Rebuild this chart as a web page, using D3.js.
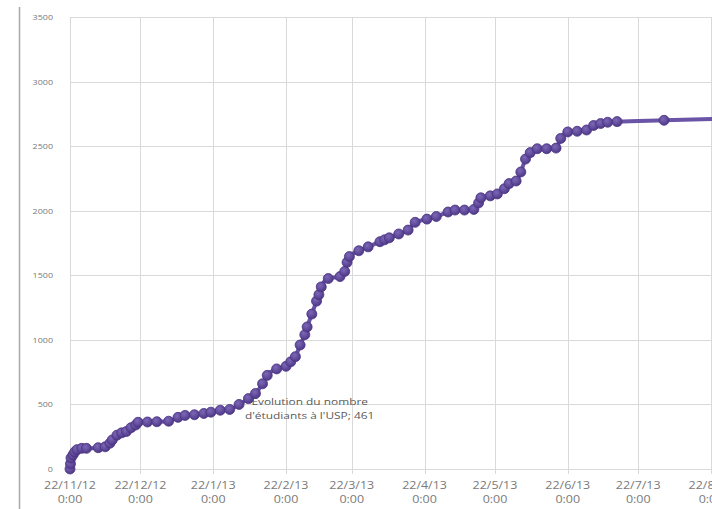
<!DOCTYPE html>
<html>
<head>
<meta charset="utf-8">
<script src="https://cdn.jsdelivr.net/npm/d3@7"></script>
<style>
  html, body { margin: 0; padding: 0; background: #ffffff; }
  svg { display: block; }
  text { font-family: "Open Sans", "Noto Sans", sans-serif; }
</style>
</head>
<body>
<svg id="chart" width="712" height="509"></svg>
<script>
// ---- data ----
const dates = [
  "2012-11-22 00:00","2012-11-22 05:00","2012-11-22 10:00","2012-11-23 07:00","2012-11-24 00:00",
  "2012-11-25 00:00","2012-11-27 00:00","2012-11-29 00:00","2012-12-04 00:00","2012-12-07 00:00",
  "2012-12-09 00:00","2012-12-10 00:00","2012-12-12 00:00","2012-12-14 00:00","2012-12-16 00:00",
  "2012-12-18 00:00","2012-12-20 00:00","2012-12-21 00:00","2012-12-25 00:00","2012-12-29 00:00",
  "2013-01-03 00:00","2013-01-07 00:00","2013-01-10 00:00","2013-01-14 00:00","2013-01-18 00:00",
  "2013-01-21 00:00","2013-01-25 00:00","2013-01-29 00:00","2013-02-02 00:00","2013-02-06 00:00",
  "2013-02-09 00:00","2013-02-12 00:00","2013-02-14 00:00","2013-02-18 00:00","2013-02-22 00:00",
  "2013-02-24 00:00","2013-02-26 00:00","2013-02-28 00:00","2013-03-02 00:00","2013-03-03 00:00",
  "2013-03-05 00:00","2013-03-07 00:00","2013-03-08 00:00","2013-03-09 00:00","2013-03-12 00:00",
  "2013-03-17 00:00","2013-03-19 00:00","2013-03-20 00:00","2013-03-21 00:00","2013-03-25 00:00",
  "2013-03-29 00:00","2013-04-03 00:00","2013-04-05 00:00","2013-04-07 00:00","2013-04-11 00:00",
  "2013-04-15 00:00","2013-04-18 00:00","2013-04-23 00:00","2013-04-27 00:00","2013-05-02 00:00",
  "2013-05-05 00:00","2013-05-09 00:00","2013-05-13 00:00","2013-05-15 00:00","2013-05-16 00:00",
  "2013-05-20 00:00","2013-05-23 00:00","2013-05-26 00:00","2013-05-28 00:00","2013-05-31 00:00",
  "2013-06-02 00:00","2013-06-04 00:00","2013-06-06 00:00","2013-06-09 00:00","2013-06-13 00:00",
  "2013-06-17 00:00","2013-06-19 00:00","2013-06-22 00:00","2013-06-26 00:00","2013-06-30 00:00",
  "2013-07-03 00:00","2013-07-06 00:00","2013-07-09 00:00","2013-07-13 00:00","2013-08-02 00:00",
  "2013-08-26 00:00"
];
const students = [
  0, 40, 85, 110, 132,
  150, 160, 160, 165, 172,
  200, 225, 262, 280, 290,
  320, 341, 362, 364, 366,
  370, 400, 415, 420, 430,
  440, 455, 461, 500, 545,
  585, 660, 725, 775, 795,
  830, 870, 960, 1040, 1100,
  1200, 1300, 1350, 1410, 1475,
  1490, 1530, 1600, 1645, 1690,
  1720, 1760, 1775, 1790, 1820,
  1850, 1910, 1935, 1955, 1990,
  2005, 2005, 2010, 2060, 2100,
  2115, 2130, 2170, 2210, 2230,
  2300, 2400, 2450, 2480, 2480,
  2485, 2560, 2610, 2615, 2625,
  2660, 2675, 2685, 2690, 2700,
  2712
];
const yTicks = [0, 500, 1000, 1500, 2000, 2500, 3000, 3500];
const xTickDates = [
  "2012-11-22 00:00","2012-12-22 00:00","2013-01-22 00:00","2013-02-22 00:00","2013-03-22 00:00",
  "2013-04-22 00:00","2013-05-22 00:00","2013-06-22 00:00","2013-07-22 00:00","2013-08-22 00:00"
];
const seriesName = ["Évolution du nombre", "d'étudiants  à l'USP; 461"];
const labelledValue = 461;

// ---- build ----
const parse = d3.timeParse("%Y-%m-%d %H:%M");
const data = dates.map((d, i) => ({ date: parse(d), value: students[i] }));
const ticks = xTickDates.map(parse);

const svg = d3.select("#chart");
const plotLeft = 70, plotRight = 711, plotTop = 17, plotBottom = 469;

const x = d3.scaleTime().domain([ticks[0], ticks[ticks.length - 1]]).range([plotLeft, plotRight]);
const y = d3.scaleLinear().domain([0, 3500]).range([plotBottom, plotTop]);

// outer border line at left
svg.append("line")
  .attr("x1", 19.5).attr("x2", 19.5).attr("y1", 7).attr("y2", 509)
  .attr("stroke", "#a8a8a8").attr("stroke-width", 1.5);

// horizontal gridlines
svg.append("g")
  .selectAll("line").data(yTicks).join("line")
  .attr("x1", plotLeft).attr("x2", 712)
  .attr("y1", d => Math.round(y(d)) + 0.5).attr("y2", d => Math.round(y(d)) + 0.5)
  .attr("stroke", "#d9d9d9").attr("stroke-width", 1);

// vertical gridlines
svg.append("g")
  .selectAll("line").data(ticks).join("line")
  .attr("x1", d => Math.round(x(d)) + 0.5).attr("x2", d => Math.round(x(d)) + 0.5)
  .attr("y1", plotTop).attr("y2", plotBottom + 5)
  .attr("stroke", "#d9d9d9").attr("stroke-width", 1);

// y tick labels
svg.append("g")
  .selectAll("g").data(yTicks).join("g")
  .attr("transform", d => `translate(53,${y(d) + 3}) scale(1.12,1)`)
  .append("text")
  .attr("text-anchor", "end")
  .attr("font-size", "8px")
  .attr("fill", "#7a7a7a")
  .text(d => d);

// x tick labels (two lines)
const fmt = d3.timeFormat("%-d/%-m/%y");
const xl = svg.append("g")
  .selectAll("g").data(ticks).join("g")
  .attr("transform", d => `translate(${x(d)},0) scale(1.25,1)`);
xl.append("text")
  .attr("text-anchor", "middle").attr("y", 489)
  .attr("font-size", "10px").attr("fill", "#7a7a7a")
  .text(d => fmt(d));
xl.append("text")
  .attr("text-anchor", "middle").attr("y", 503)
  .attr("font-size", "10px").attr("fill", "#7a7a7a")
  .text(d => d3.timeFormat("%-H:%M")(d));

// data label (drawn beneath the series)
const lp = data.find(d => d.value === labelledValue);
const lg = svg.append("g")
  .attr("transform", `translate(${x(lp.date) + 80},${y(lp.value)}) scale(1.25,1)`);
lg.append("text").attr("text-anchor", "middle").attr("y", -4)
  .attr("font-size", "9.5px").attr("fill", "#5a5a5a").text(seriesName[0]);
lg.append("text").attr("text-anchor", "middle").attr("y", 10)
  .attr("font-size", "9.5px").attr("fill", "#5a5a5a").text(seriesName[1]);

// series line
const line = d3.line()
  .x(d => x(d.date)).y(d => y(d.value))
  .curve(d3.curveMonotoneX);
svg.append("path")
  .datum(data)
  .attr("d", line)
  .attr("fill", "none")
  .attr("stroke", "#6a54a6")
  .attr("stroke-width", 4)
  .attr("stroke-linejoin", "round");

// markers
const defs = svg.append("defs");
const grad = defs.append("radialGradient").attr("id", "mk").attr("cx", "40%").attr("cy", "35%").attr("r", "65%");
grad.append("stop").attr("offset", "0%").attr("stop-color", "#7d68b8");
grad.append("stop").attr("offset", "100%").attr("stop-color", "#4f3888");

svg.append("g")
  .selectAll("circle").data(data).join("circle")
  .attr("cx", d => x(d.date)).attr("cy", d => y(d.value))
  .attr("r", 5)
  .attr("fill", "url(#mk)")
  .attr("stroke", "#4a3382").attr("stroke-width", 0.8);
</script>
</body>
</html>
